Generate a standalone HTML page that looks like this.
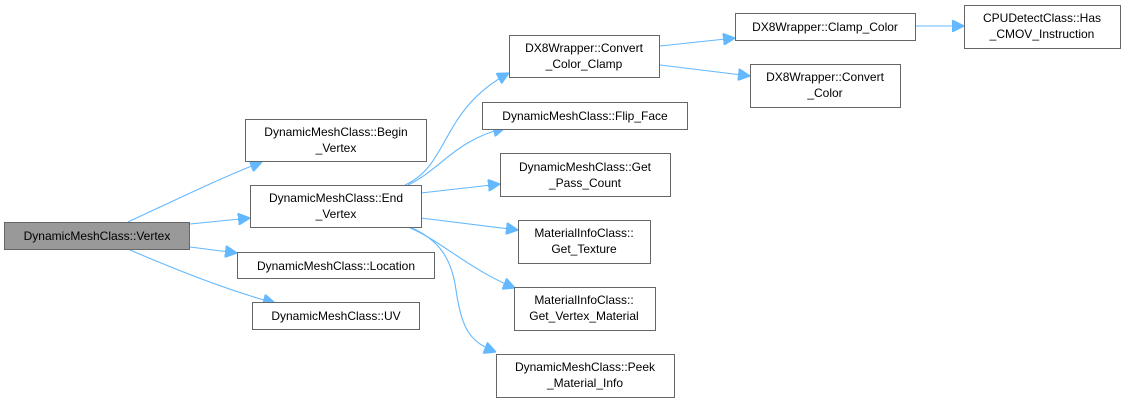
<!DOCTYPE html>
<html><head><meta charset="utf-8"><style>
body{margin:0;background:#fff;}
text{font-family:"Liberation Sans",sans-serif;font-size:12px;fill:#000;text-anchor:middle;}
rect{fill:#fff;stroke:#666;stroke-width:1;}
path{fill:none;stroke:#63b8ff;stroke-width:1.1;}
</style></head><body>
<svg width="1122" height="400" xmlns="http://www.w3.org/2000/svg">
<defs><marker id="a" viewBox="0 0 10 10" refX="10" refY="5" markerWidth="12" markerHeight="12" markerUnits="userSpaceOnUse" orient="auto"><path d="M0,0 L10,5 L0,10 z" style="fill:#63b8ff;stroke:#63b8ff"/></marker></defs>
<g marker-end="url(#a)">
<path d="M128,222 C165,205 220,178 262,162"/>
<path d="M190,224 L250,218"/>
<path d="M190,247 L237,253"/>
<path d="M130,250 C165,265 225,290 275,303"/>
<path d="M405,185 C450,165 440,110 509,73"/>
<path d="M408,185 C440,170 455,140 505,128"/>
<path d="M421,193 L500,184"/>
<path d="M421,218 L518,230"/>
<path d="M408,227 C440,240 470,270 515,288"/>
<path d="M410,227 C440,240 452,260 456,290 C462,330 470,342 496,352"/>
<path d="M660,46 L735,38"/>
<path d="M660,65 L750,76"/>
<path d="M915,26 L964,26"/>
</g>
<rect x="4.5" y="222.5" width="185" height="27" style="fill:#999"/><text x="97" y="240">DynamicMeshClass::Vertex</text>
<rect x="245.5" y="119.5" width="181" height="42"/><text x="336" y="136">DynamicMeshClass::Begin</text><text x="336" y="152">_Vertex</text>
<rect x="250.5" y="185.5" width="171" height="42"/><text x="336" y="202">DynamicMeshClass::End</text><text x="336" y="218">_Vertex</text>
<rect x="237.5" y="252.5" width="197" height="26"/><text x="336" y="270">DynamicMeshClass::Location</text>
<rect x="252.5" y="302.5" width="167" height="27"/><text x="336" y="320">DynamicMeshClass::UV</text>
<rect x="509.5" y="35.5" width="150" height="42"/><text x="584" y="52">DX8Wrapper::Convert</text><text x="584" y="68">_Color_Clamp</text>
<rect x="482.5" y="102.5" width="205" height="27"/><text x="585" y="120">DynamicMeshClass::Flip_Face</text>
<rect x="500.5" y="153.5" width="170" height="43"/><text x="585" y="171">DynamicMeshClass::Get</text><text x="585" y="187">_Pass_Count</text>
<rect x="518.5" y="220.5" width="132" height="43"/><text x="584" y="237">MaterialInfoClass::</text><text x="584" y="253">Get_Texture</text>
<rect x="514.5" y="287.5" width="141" height="43"/><text x="584" y="304">MaterialInfoClass::</text><text x="584" y="320">Get_Vertex_Material</text>
<rect x="496.5" y="354.5" width="178" height="43"/><text x="585" y="371">DynamicMeshClass::Peek</text><text x="585" y="387">_Material_Info</text>
<rect x="735.5" y="13.5" width="180" height="27"/><text x="825" y="31">DX8Wrapper::Clamp_Color</text>
<rect x="750.5" y="64.5" width="150" height="43"/><text x="825" y="81">DX8Wrapper::Convert</text><text x="825" y="97">_Color</text>
<rect x="964.5" y="5.5" width="156" height="43"/><text x="1042" y="22">CPUDetectClass::Has</text><text x="1042" y="38">_CMOV_Instruction</text>
</svg>
</body></html>
